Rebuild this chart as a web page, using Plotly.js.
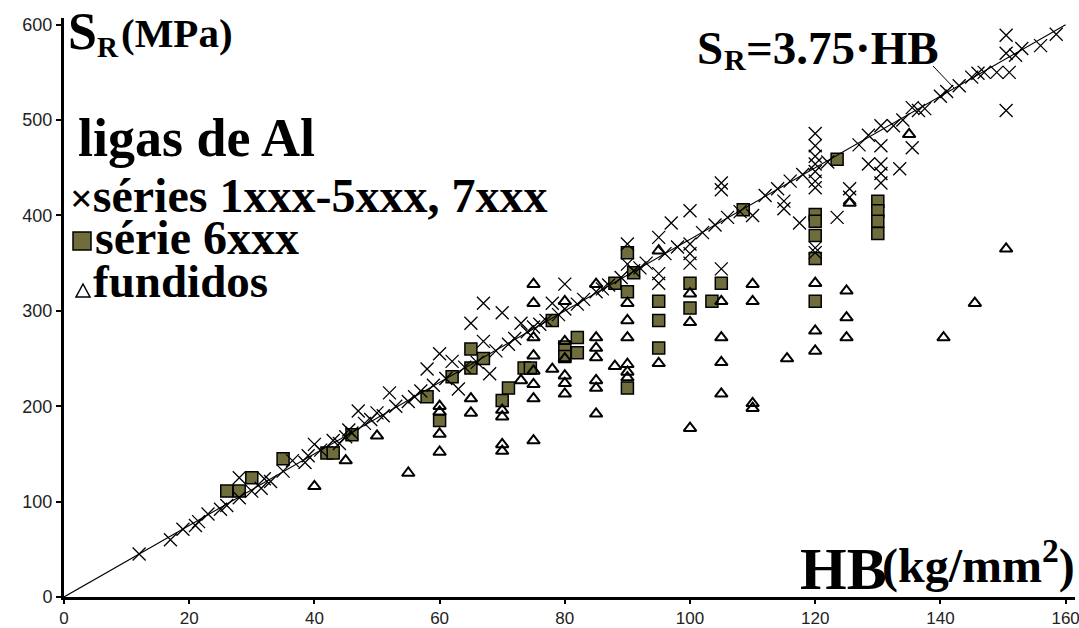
<!DOCTYPE html>
<html>
<head>
<meta charset="utf-8">
<script src="https://cdn.plot.ly/plotly-3.0.1.min.js"></script>
<style>
  html, body { margin: 0; padding: 0; background: #fff; }
  #chart { width: 1079px; height: 628px; }
</style>
</head>
<body>
<div id="chart"></div>
<script>
// Ultimate tensile strength S_R (MPa) versus Brinell hardness HB (kg/mm²) for aluminium alloys

// séries 1xxx-5xxx, 7xxx (wrought, crosses)
const wroughtHB = [
  12, 17, 19, 21, 21.5, 23, 25, 26, 28, 28, 30, 31.5, 32, 33, 35, 36.5, 38.5, 39, 40, 41,
  43, 44, 45, 45.5, 46, 47, 48, 49, 50, 51, 52, 53, 55, 56, 57, 58, 59, 60, 61, 62,
  63, 64, 65, 66, 67, 67, 68, 69, 70, 71, 72, 73, 74, 75, 76, 77, 78, 79, 80, 80,
  82, 83, 85, 86, 87, 89, 90, 90, 91, 92, 93, 95, 95, 95, 96, 97, 98, 100, 100, 100,
  100, 102, 104, 105, 105, 105, 106, 108, 110, 112, 114, 115, 115, 116, 117.5, 118, 120, 120, 120, 120,
  120, 120, 120, 120, 120, 122, 123.5, 125.5, 125.5, 127, 128.5, 128.5, 130.5, 130.5, 130.5, 130.5, 130.5, 132.5, 133.5, 134,
  135.5, 135.5, 136.5, 137.5, 140, 141, 143, 145, 146, 147, 149, 150.5, 151, 150.5, 152, 150.5, 153, 156, 158.5
];
const wroughtSR = [
  45, 60, 71, 75, 79, 87, 92, 96, 125, 104, 111, 114, 124, 121, 132, 143, 141, 148, 160, 154,
  164, 161, 168, 175, 172, 195, 182, 186, 193, 190, 214, 200, 205, 210, 216, 239, 222, 255, 229, 247,
  218, 241, 287, 246, 308, 268, 234, 258, 298, 265, 271, 287, 278, 283, 286, 290, 308, 296, 328, 302,
  307, 312, 320, 323, 327, 335, 370, 349, 342, 345, 350, 377, 339, 329, 360, 392, 367, 405, 370, 360,
  350, 382, 390, 434, 427, 344, 398, 404, 400, 421, 428, 415, 407, 436, 392, 443, 486, 473, 462, 454,
  446, 436, 429, 366, 361, 456, 398, 428, 419, 474, 484, 454, 494, 473, 454, 444, 434, 494, 449, 500,
  513, 471, 510, 512, 525, 530, 536, 545, 549, 550, 550, 510, 550, 570, 568, 589, 575, 578, 590
];

// série 6xxx (filled squares)
const s6xxxHB = [
  26, 28, 30, 35, 42, 43, 46, 58, 60, 62, 65, 65, 67, 70, 71, 73.5, 74.5, 78, 80, 80,
  82, 82, 88, 90, 91, 90, 90, 95, 95, 95, 100, 100, 103.5, 105, 108.5, 120, 120, 120, 120, 120,
  123.5, 130, 130, 130, 130
];
const s6xxxSR = [
  111, 111, 125, 145, 151, 151, 170, 210, 185, 231, 260, 240, 250, 206, 219, 240, 240, 290, 262, 252,
  272, 256, 329, 361, 340, 320, 219, 310, 290, 261, 329, 303, 310, 329, 406, 401, 394, 379, 355, 310,
  459, 415, 405, 394, 381
];

// fundidos (casting alloys, open triangles)
const castHB = [
  40, 45, 50, 55, 60, 60, 60, 60, 65, 65, 70, 70, 70, 70, 73, 75, 75, 75, 75, 75,
  75, 75, 75, 78, 80, 80, 80, 80, 80, 80, 85, 85, 85, 85, 85, 85, 85, 88, 90, 90,
  90, 90, 90, 90, 95, 95, 100, 100, 100, 105, 105, 105, 105, 110, 110, 110, 110, 115.5, 120, 120,
  120, 125.5, 125, 125, 125, 135, 140.5, 145.5, 150.5
];
const castSR = [
  116, 143, 169, 130, 200, 194, 171, 152, 208, 193, 196, 189, 160, 153, 227, 328, 308, 272, 253, 237,
  223, 208, 164, 239, 310, 268, 250, 232, 224, 213, 328, 272, 261, 251, 227, 219, 192, 242, 308, 290,
  272, 244, 236, 230, 363, 245, 318, 288, 177, 310, 272, 246, 213, 328, 310, 203, 198, 250, 329, 279,
  258, 413, 321, 293, 272, 485, 272, 308, 365
];

// fitted proportionality S_R = 3.75·HB
const slope = 3.75;
const fitHB = [0, 160];
const fitSR = fitHB.map(h => slope * h);

const xTicks = [0, 20, 40, 60, 80, 100, 120, 140, 160];
const yTicks = [0, 100, 200, 300, 400, 500, 600];

const olive = '#6f6d3c';
const serif = 'Liberation Serif, Times New Roman, serif';

// page geometry
const W = 1079, H = 628;
const M = { l: 64, r: 4, t: 18, b: 31 };
const pw = W - M.l - M.r, ph = H - M.t - M.b;
const fx = p => (p - M.l) / pw;
const fy = p => (H - M.b - p) / ph;

const traces = [
  {
    x: s6xxxHB, y: s6xxxSR, type: 'scatter', mode: 'markers', name: 'série 6xxx',
    marker: { symbol: 'square', size: 12, color: olive, line: { color: '#000', width: 1.5 } }
  },
  {
    x: castHB, y: castSR, type: 'scatter', mode: 'markers', name: 'fundidos',
    marker: { symbol: 'triangle-up-open', size: 11, color: '#000', line: { width: 2 } }
  },
  {
    x: wroughtHB, y: wroughtSR, type: 'scatter', mode: 'markers', name: 'séries 1xxx-5xxx, 7xxx',
    marker: { symbol: 'x-thin-open', size: 13, color: '#000', line: { width: 1.3 } }
  },
  {
    x: fitHB, y: fitSR, type: 'scatter', mode: 'lines', name: 'S_R = 3.75·HB',
    line: { color: '#000', width: 1.1 }
  }
];

// text label placed by its left edge (x) and the bottom of its box (y), in page pixels
const ann = (x, y, text, size) => ({
  xref: 'paper', yref: 'paper', x: fx(x), y: fy(y), text: text,
  showarrow: false, xanchor: 'left', yanchor: 'bottom',
  font: { family: serif, size: size, color: '#000', weight: 'bold' }
});

const layout = {
  width: W, height: H,
  margin: M,
  paper_bgcolor: '#fff', plot_bgcolor: '#fff',
  showlegend: false,
  font: { family: 'Liberation Sans, Arial, sans-serif' },
  xaxis: {
    range: [0, 161.5], tickvals: xTicks, ticktext: xTicks.map(String),
    showgrid: false, zeroline: false,
    showline: true, linecolor: '#000', linewidth: 3,
    ticks: 'outside', ticklen: 4, tickwidth: 2, tickcolor: '#000',
    ticklabeloverflow: 'allow',
    tickfont: { size: 17, color: '#222' }
  },
  yaxis: {
    range: [0, 607], tickvals: yTicks, ticktext: yTicks.map(String),
    showgrid: false, zeroline: false,
    showline: true, linecolor: '#000', linewidth: 3,
    ticks: 'outside', ticklen: 5, tickwidth: 2, tickcolor: '#000',
    ticklabeloverflow: 'allow', ticklabelstandoff: 0,
    tickfont: { size: 18, color: '#222' }
  },
  annotations: [
    // axis titles
    ann(66, 62, 'S', 52),
    ann(95, 65, 'R', 29),
    ann(119, 58, '(MPa)', 41),
    ann(798, 604, 'HB', 60),
    ann(880, 595, '(kg/mm<sup>2</sup>)', 48),
    // key
    ann(76, 170, 'ligas de Al', 54),
    ann(68, 224, '<span style="font-size:40px">×</span>séries 1xxx-5xxx, 7xxx', 48),
    ann(93, 266, 'série 6xxx', 48),
    ann(91, 309, 'fundidos', 47),
    // fitted-line equation
    ann(695, 76, 'S', 47),
    ann(722, 78, 'R', 30),
    ann(744, 76, '=3.75·HB', 47)
  ],
  shapes: [
    // leader from the equation to the fitted line
    { type: 'line', xref: 'paper', yref: 'paper',
      x0: fx(933), y0: fy(66), x1: fx(954), y1: fy(88),
      line: { color: '#000', width: 1 } },
    // key: filled square
    { type: 'rect', xref: 'paper', yref: 'paper',
      x0: fx(73), y0: fy(250), x1: fx(91), y1: fy(232),
      fillcolor: olive, line: { color: '#000', width: 1.5 } },
    // key: open triangle
    { type: 'path', xref: 'paper', yref: 'paper',
      path: 'M ' + fx(76) + ' ' + fy(297) + ' L ' + fx(90) + ' ' + fy(297) + ' L ' + fx(83) + ' ' + fy(284) + ' Z',
      line: { color: '#000', width: 1.5 } }
  ]
};

Plotly.newPlot('chart', traces, layout, { staticPlot: true, displayModeBar: false });
</script>
</body>
</html>
